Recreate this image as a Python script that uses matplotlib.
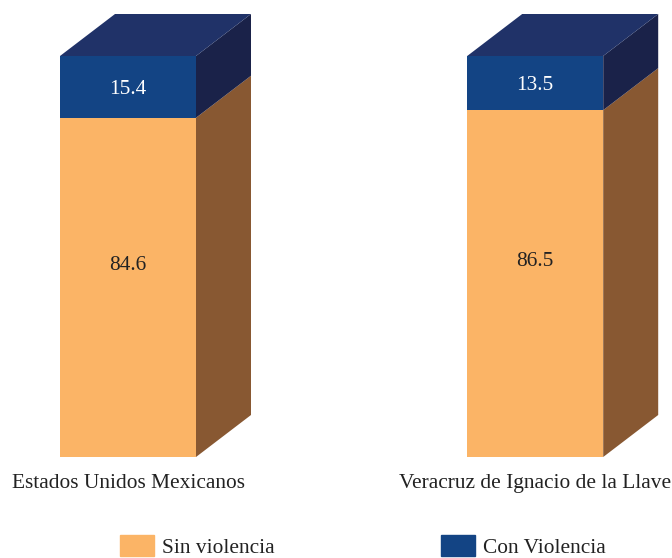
import matplotlib
matplotlib.use('Agg')
import matplotlib.pyplot as plt
from matplotlib.patches import Polygon, Patch

categories = ['Estados Unidos Mexicanos', 'Veracruz de Ignacio de la Llave']
sin_violencia = [84.6, 86.5]
con_violencia = [15.4, 13.5]
series_names = ['Sin violencia', 'Con Violencia']

ORANGE = '#fbb466'
BLUE = '#134484'
BROWN = '#885832'
DARK_SIDE = '#1a2249'
TOP = '#203268'

plt.rcParams['font.family'] = ['Liberation Serif', 'DejaVu Serif']
plt.rcParams['font.size'] = 15.4

fig = plt.figure(figsize=(6.72, 5.58), dpi=100)
ax = fig.add_axes([0, 101 / 558, 1, 457 / 558])

# one unit on x is the distance between the two bars, y is in percent
px_x = 407.2
px_y = 4.01
ax.set_xlim(-128 / px_x, (672 - 128) / px_x)
ax.set_ylim(0, 457 / px_y)
width = 136 / px_x
dx = 55 / px_x
dy = 42 / px_y


def side(x, y0, y1, color):
    ax.add_patch(Polygon([(x, y0), (x + dx, y0 + dy), (x + dx, y1 + dy), (x, y1)],
                         closed=True, facecolor=color, edgecolor='none', zorder=1))


for i in range(len(categories)):
    low = sin_violencia[i]
    high = low + con_violencia[i]
    x_right = i + width / 2
    ax.bar(i, low, width, color=ORANGE, zorder=2)
    ax.bar(i, con_violencia[i], width, bottom=low, color=BLUE, zorder=2)
    side(x_right, 0, low, BROWN)
    side(x_right, low, high, DARK_SIDE)
    # top face
    ax.add_patch(Polygon([(i - width / 2, high), (x_right, high),
                          (x_right + dx, high + dy), (i - width / 2 + dx, high + dy)],
                         closed=True, facecolor=TOP, edgecolor='none', zorder=1))
    # labels sit a little above the middle of the front face, as in the original
    ax.text(i, low / 2 + dy * 0.53, '%.1f' % low, ha='center', va='center', color='#222222', fontsize=15.4)
    ax.text(i, low + con_violencia[i] / 2 - 0.6, '%.1f' % con_violencia[i], ha='center', va='center',
            color='white', fontsize=15.4)

for s in ax.spines.values():
    s.set_visible(False)
ax.set_yticks([])
ax.set_xticks(range(len(categories)))
ax.set_xticklabels(categories, color='#222222')
ax.tick_params(axis='x', length=0, pad=12)

handles = [Patch(color=ORANGE), Patch(color=BLUE)]
fig.legend(handles, series_names, ncol=2, frameon=False, loc='lower left',
           bbox_to_anchor=(120 / 672, 0), borderpad=0, borderaxespad=0,
           handlelength=1.59, handleheight=1.1, handletextpad=0.37, columnspacing=7.8,
           labelcolor='#222222')

fig.savefig('out.png', dpi=100)
